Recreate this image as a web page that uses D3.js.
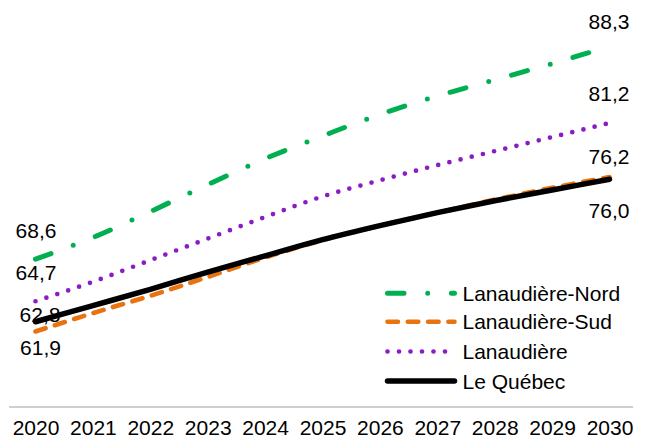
<!DOCTYPE html>
<html>
<head>
<meta charset="utf-8">
<script src="https://cdn.jsdelivr.net/npm/d3@7"></script>
<style>
  html, body { margin: 0; padding: 0; background: #fff; }
  svg { display: block; }
  text { font-family: "Liberation Sans", Arial, sans-serif; fill: #000; }
</style>
</head>
<body>
<svg id="chart" width="647" height="439"></svg>
<script>
// ---- data ----
const years = [2020, 2021, 2022, 2023, 2024, 2025, 2026, 2027, 2028, 2029, 2030];
const seriesNames = ["Lanaudière-Nord", "Lanaudière-Sud", "Lanaudière", "Le Québec"];
const nordValues = [68.6, 70.6, 73.0, 75.5, 77.9, 80.0, 82.0, 83.7, 85.2, 86.7, 88.3];
const sudValues = [61.9, 63.6, 65.2, 66.95, 68.75, 70.35, 71.7, 72.9, 74.1, 75.2, 76.2];
const lanaudiereValues = [64.7, 66.5, 68.5, 70.5, 72.5, 74.4, 75.9, 77.3, 78.6, 79.9, 81.2];
const quebecValues = [62.8, 64.3, 65.8, 67.4, 68.9, 70.4, 71.7, 72.9, 74.0, 75.0, 76.0];
const tickLabels = ["2020", "2021", "2022", "2023", "2024", "2025", "2026", "2027", "2028", "2029", "2030"];

// ---- styles / layout ----
const styles = [
  { color: "#00B050", width: 5, dash: "16.5,23.7,0,23.7" },
  { color: "#E8730F", width: 4.6, dash: "10.5,9.8" },
  { color: "#8A1CC4", width: 4.7, dash: "0,11.5" },
  { color: "#000000", width: 5.5, dash: null }
];
const allValues = [nordValues, sudValues, lanaudiereValues, quebecValues];
// label offsets (first point, last point): [dx, dy] relative to the point
const labelOffsets = [
  [[0.5, -21], [-0.5, -17]],
  [[5, 23.5], [-0.5, -13.4]],
  [[0.5, -21.7], [-0.5, -21.6]],
  [[4.5, 0], [-0.5, 38.3]]
];
const fontSize = 21;

const svg = d3.select("#chart");
const x = d3.scaleLinear().domain([2020, 2030]).range([35.5, 609.5]);
const y = d3.scaleLinear().domain([55, 90]).range([406, 28]);
const axisY = 407;

// axis line
svg.append("line")
  .attr("x1", 9).attr("x2", 633)
  .attr("y1", axisY).attr("y2", axisY)
  .attr("stroke", "#BFBFBF").attr("stroke-width", 1.5);

// tick labels through axis
const axis = d3.axisBottom(x)
  .tickValues(years)
  .tickFormat((d, i) => tickLabels[i])
  .tickSize(0);
const ag = svg.append("g").attr("transform", `translate(0,${axisY})`).call(axis);
ag.select(".domain").remove();
ag.selectAll("text")
  .attr("y", 27.5).attr("dy", null)
  .style("font-size", fontSize + "px")
  .style("font-family", '"Liberation Sans", Arial, sans-serif')
  .attr("fill", "#000");

// lines
const line = d3.line().x((d, i) => x(years[i])).y(d => y(d)).curve(d3.curveMonotoneX);
allValues.forEach((vals, s) => {
  const st = styles[s];
  svg.append("path")
    .datum(vals)
    .attr("d", line)
    .attr("fill", "none")
    .attr("stroke", st.color)
    .attr("stroke-width", st.width)
    .attr("stroke-linecap", "round")
    .attr("stroke-linejoin", "round")
    .attr("stroke-dasharray", st.dash);
});

// data labels
const fmt = v => v.toFixed(1).replace(".", ",");
allValues.forEach((vals, s) => {
  [0, vals.length - 1].forEach((idx, k) => {
    const off = labelOffsets[s][k];
    svg.append("text")
      .attr("x", x(years[idx]) + off[0])
      .attr("y", y(vals[idx]) + off[1])
      .attr("text-anchor", "middle")
      .style("font-size", fontSize + "px")
      .text(fmt(vals[idx]));
  });
});

// legend
const legX1 = 387.5, legX2 = 454.5, legTextX = 462.5;
const legBaselines = [300.7, 329.3, 359, 388.5];
seriesNames.forEach((name, s) => {
  const st = styles[s];
  const cy = legBaselines[s] - 7.5;
  svg.append("line")
    .attr("x1", legX1).attr("x2", legX2)
    .attr("y1", cy).attr("y2", cy)
    .attr("stroke", st.color)
    .attr("stroke-width", st.width)
    .attr("stroke-linecap", "round")
    .attr("stroke-dasharray", st.dash);
  svg.append("text")
    .attr("x", legTextX)
    .attr("y", legBaselines[s])
    .style("font-size", fontSize + "px")
    .text(name);
});
</script>
</body>
</html>
